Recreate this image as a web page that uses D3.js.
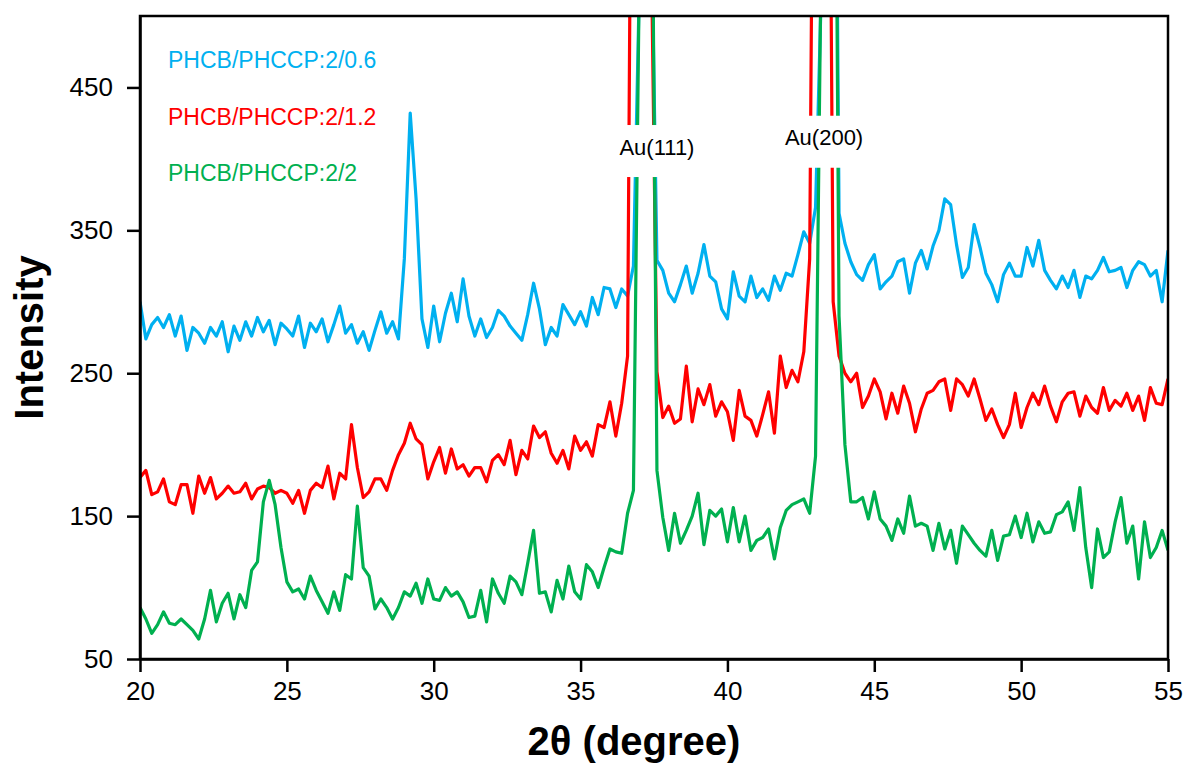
<!DOCTYPE html>
<meta charset="utf-8">
<style>
body { margin: 0; background: #fff; }
svg { display: block; font-family: Arial, "Liberation Sans", sans-serif; }
.axis text { font-size: 26px; fill: #000; }
.axis path, .axis line { stroke: #000; stroke-width: 2.5; }
.title { font-weight: bold; font-size: 40px; fill: #000; }
</style>
<body>
<script src="https://cdn.jsdelivr.net/npm/d3@7/dist/d3.min.js"></script>
<script>
// 2theta sampled every 0.2 degree, 20 -> 55
var theta = d3.range(176).map(function(i) { return +(20 + i * 0.2).toFixed(1); });

var blue = [
  300, 274, 284, 289, 282, 291, 276, 290, 266, 282,
  278, 271, 282, 276, 286, 265, 283, 273, 286, 276,
  289, 279, 287, 270, 285, 281, 276, 290, 268, 285,
  279, 288, 272, 284, 297, 278, 284, 271, 279, 266,
  280, 293, 278, 286, 274, 330, 432, 372, 288, 268,
  297, 272, 292, 306, 286, 316, 290, 276, 288, 275,
  282, 294, 290, 283, 278, 273, 291, 313, 295, 270,
  282, 276, 298, 291, 284, 293, 283, 303, 291, 310,
  309, 296, 309, 304, 325, 520, 900, 580, 329, 322,
  306, 300, 312, 325, 306, 320, 340, 318, 314, 295,
  288, 321, 304, 300, 318, 303, 309, 301, 318, 308,
  320, 318, 333, 349, 341, 366, 520, 900, 900, 362,
  341, 328, 319, 315, 326, 333, 309, 314, 318, 328,
  330, 306, 327, 336, 323, 339, 350, 372, 368, 340,
  317, 324, 354, 338, 320, 312, 300, 319, 327, 318,
  318, 338, 325, 343, 322, 315, 309, 318, 310, 322,
  303, 318, 316, 322, 331, 321, 322, 324, 310, 322,
  328, 326, 318, 322, 300, 336
];

var red = [
  177, 182, 165, 167, 176, 160, 158, 172, 172, 152,
  178, 166, 177, 162, 166, 171, 166, 167, 173, 162,
  169, 171, 170, 166, 168, 166, 159, 168, 152, 168,
  173, 170, 185, 162, 180, 176, 214, 184, 163, 167,
  176, 176, 168, 182, 193, 201, 215, 204, 200, 176,
  188, 198, 180, 197, 183, 186, 178, 184, 184, 174,
  189, 193, 186, 203, 179, 196, 190, 213, 205, 209,
  194, 187, 196, 183, 206, 196, 202, 192, 214, 212,
  230, 206, 229, 262, 900, 900, 900, 560, 251, 219,
  227, 215, 218, 255, 216, 239, 228, 242, 220, 230,
  223, 203, 238, 220, 217, 206, 221, 237, 208, 262,
  240, 252, 244, 265, 330, 900, 900, 900, 300, 262,
  250, 244, 250, 226, 234, 246, 237, 218, 236, 222,
  241, 229, 209, 225, 236, 238, 244, 246, 224, 246,
  242, 234, 246, 232, 217, 225, 214, 205, 214, 236,
  212, 226, 236, 228, 241, 227, 216, 230, 236, 237,
  220, 234, 226, 222, 240, 224, 231, 227, 236, 224,
  234, 217, 240, 229, 228, 246
];

var green = [
  86, 78, 68, 74, 83, 75, 74, 78, 74, 70,
  64, 78, 98, 76, 89, 96, 78, 95, 86, 112,
  118, 160, 175, 158, 128, 104, 97, 99, 92, 108,
  98, 90, 82, 97, 84, 109, 106, 157, 114, 108,
  85, 92, 86, 78, 86, 97, 94, 103, 89, 106,
  92, 91, 100, 94, 97, 90, 79, 80, 98, 76,
  106, 96, 89, 108, 104, 95, 117, 140, 96, 97,
  83, 105, 92, 115, 97, 92, 116, 111, 100, 114,
  127, 125, 124, 152, 168, 530, 900, 700, 182, 149,
  126, 152, 131, 140, 150, 166, 130, 154, 150, 155,
  132, 156, 132, 150, 126, 133, 135, 141, 120, 142,
  154, 158, 160, 162, 152, 192, 560, 900, 900, 290,
  200, 160, 160, 163, 148, 167, 148, 143, 133, 148,
  138, 164, 143, 145, 143, 126, 145, 127, 140, 117,
  143, 137, 131, 126, 122, 140, 119, 136, 137, 150,
  135, 152, 132, 146, 138, 139, 151, 153, 160, 140,
  170, 128, 100, 141, 121, 125, 146, 163, 131, 143,
  106, 146, 121, 128, 140, 126
];

var names = ["PHCB/PHCCP:2/0.6", "PHCB/PHCCP:2/1.2", "PHCB/PHCCP:2/2"];
var colors = ["#00b0f0", "#ff0000", "#00b050"];
var xTicks = [20, 25, 30, 35, 40, 45, 50, 55];
var yTicks = [50, 150, 250, 350, 450];
var peaks = [{label: "Au(111)", x: 37.6, y: 405.5}, {label: "Au(200)", x: 43.29, y: 412}];

var W = 1188, H = 767,
    margin = {top: 16, right: 20, bottom: 108, left: 140},
    width = W - margin.left - margin.right,
    height = H - margin.top - margin.bottom;

var svg = d3.select("body").append("svg")
    .attr("width", W)
    .attr("height", H);

var g = svg.append("g")
    .attr("transform", "translate(" + margin.left + "," + margin.top + ")");

var x = d3.scaleLinear().domain([20, 55]).range([0, width]);
var y = d3.scaleLinear().domain([50, 500]).range([height, 0]);

g.append("clipPath").attr("id", "plot")
  .append("rect").attr("width", width).attr("height", height);

var line = d3.line()
    .x(function(d, i) { return x(theta[i]); })
    .y(function(d) { return y(d); });

var series = [blue, red, green];
g.append("g").attr("clip-path", "url(#plot)")
  .selectAll("path")
  .data(series)
  .enter().append("path")
    .attr("d", line)
    .attr("fill", "none")
    .attr("stroke", function(d, i) { return colors[i]; })
    .attr("stroke-width", 3.2)
    .attr("stroke-linejoin", "round");

// peak labels sit on white boxes that cut the lines
var pk = g.selectAll(".peak")
    .data(peaks)
  .enter().append("g")
    .attr("class", "peak")
    .attr("transform", function(d) { return "translate(" + x(d.x) + "," + y(d.y) + ")"; });
pk.append("rect")
    .attr("x", -45).attr("y", -26)
    .attr("width", 90).attr("height", 52)
    .attr("fill", "#fff");
pk.append("text")
    .attr("text-anchor", "middle")
    .attr("y", -4)
    .attr("dy", "0.35em")
    .style("font-size", "22px")
    .text(function(d) { return d.label; });

// legend texts
g.selectAll(".leg")
    .data(names)
  .enter().append("text")
    .attr("class", "leg")
    .attr("x", 28)
    .attr("y", function(d, i) { return 52 + i * 56.5; })
    .attr("fill", function(d, i) { return colors[i]; })
    .style("font-size", "23px")
    .text(function(d) { return d; });

g.append("g")
    .attr("class", "axis")
    .attr("transform", "translate(0," + height + ")")
    .call(d3.axisBottom(x).tickValues(xTicks).tickSize(13).tickSizeOuter(0).tickPadding(10));

g.append("g")
    .attr("class", "axis")
    .call(d3.axisLeft(y).tickValues(yTicks).tickSize(13).tickSizeOuter(0).tickPadding(14));

g.append("rect")
    .attr("width", width).attr("height", height)
    .attr("fill", "none")
    .attr("stroke", "#000")
    .attr("stroke-width", 2.5);

svg.append("text")
    .attr("class", "title")
    .attr("text-anchor", "middle")
    .attr("x", 634)
    .attr("y", 755)
    .text("2θ (degree)");

svg.append("text")
    .attr("class", "title")
    .attr("text-anchor", "middle")
    .attr("transform", "translate(43," + (margin.top + height / 2) + ") rotate(-90)")
    .text("Intensity");
</script>
